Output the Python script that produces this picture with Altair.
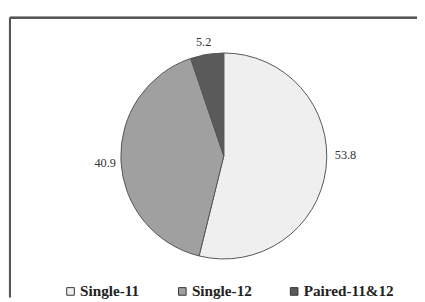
import altair as alt
import pandas as pd
import math

categories = ["Single-11", "Single-12", "Paired-11&12"]
values = [53.8, 40.9, 5.2]
labels = ["53.8", "40.9", "5.2"]
colors = ["#efefef", "#a0a0a0", "#5a5a5a"]

df = pd.DataFrame({"cat": categories, "val": values, "lab": labels, "order": [0, 1, 2]})

W, H = 415, 285
CX, CY = 218, 141
R = 105

color = alt.Color(
    "cat:N",
    scale=alt.Scale(domain=categories, range=colors),
    sort=categories,
    legend=alt.Legend(
        title=None,
        orient="none",
        legendX=54,
        legendY=271,
        direction="horizontal",
        columns=3,
        gridAlign="all",
        columnPadding=4,
        symbolType="square",
        symbolSize=60,
        symbolStrokeColor="#333333",
        symbolStrokeWidth=1,
        labelFont="Liberation Serif",
        labelFontWeight="bold",
        labelFontSize=15.5,
        labelColor="#222222",
        labelOffset=2,
        labelLimit=200,
    ),
)

base = alt.Chart(df)

pie = base.mark_arc(stroke="#555555", strokeWidth=1, radius=R).encode(
    theta=alt.Theta("val:Q", stack=True),
    color=color,
    order=alt.Order("order:Q"),
    x=alt.value(CX),
    y=alt.value(CY),
)

stacked = (
    base.transform_window(cum="sum(val)", sort=[alt.SortField("order")])
    .transform_joinaggregate(total="sum(val)")
    .transform_calculate(frac="(datum.cum - datum.val / 2) / datum.total")
)

# per-label nudges to mimic the outside-end placement of the original
nudges = {"53.8": (5, -15), "40.9": (-1, 2), "5.2": (-1, 2)}
texts = []
for lab, (dx, dy) in nudges.items():
    texts.append(
        stacked.transform_filter(alt.datum.lab == lab)
        .mark_text(
            radius=R + 15,
            font="Liberation Serif",
            fontSize=12.5,
            color="#333333",
            dx=dx,
            dy=dy,
        )
        .encode(
            theta=alt.Theta(
                "frac:Q",
                stack=False,
                scale=alt.Scale(domain=[0, 1], range=[0, 2 * math.pi]),
            ),
            text="lab:N",
            x=alt.value(CX),
            y=alt.value(CY),
        )
    )

left = base.mark_rule(color="#555555", strokeWidth=2).encode(
    x=alt.value(0), y=alt.value(0), y2=alt.value(H)
)
top = base.mark_rule(color="#555555", strokeWidth=2).encode(
    x=alt.value(0), x2=alt.value(W), y=alt.value(0)
)

chart = (
    alt.layer(left, top, pie, *texts)
    .resolve_scale(theta="independent")
    .properties(
        width=W,
        height=H,
        padding={"left": 2, "top": 7, "right": 0, "bottom": 0},
        autosize=alt.AutoSizeParams(type="none"),
        background="white",
    )
    .configure_view(stroke=None)
)

chart.save("out.html", embed_options={"renderer": "svg", "actions": False})
